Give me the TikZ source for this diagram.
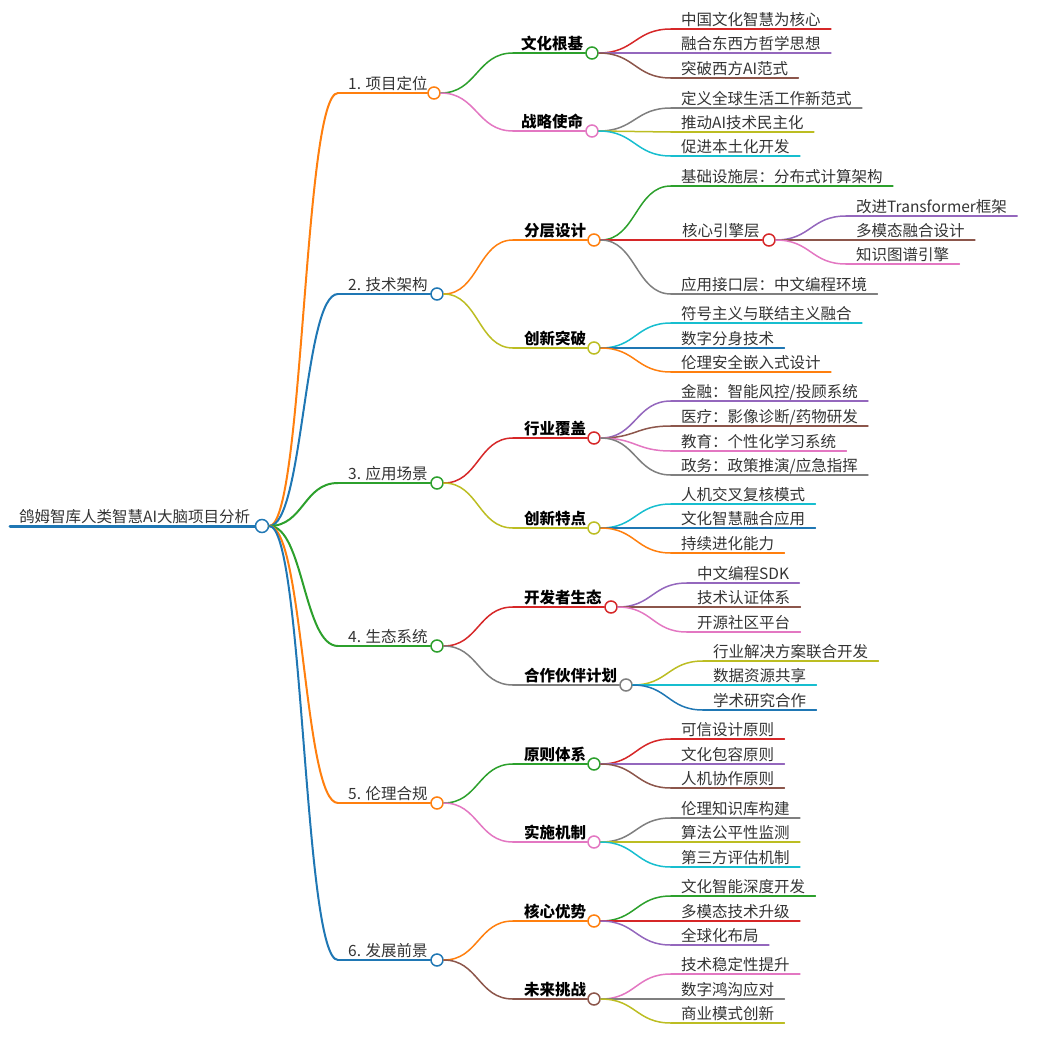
\documentclass[tikz,border=0pt]{standalone}
\usepackage{fontspec}
\setmainfont{Noto Sans CJK SC}
\usetikzlibrary{calc}
\definecolor{mmblue}{HTML}{1F77B4}
\definecolor{mmorange}{HTML}{FF7F0E}
\definecolor{mmgreen}{HTML}{2CA02C}
\definecolor{mmred}{HTML}{D62728}
\definecolor{mmpurple}{HTML}{9467BD}
\definecolor{mmbrown}{HTML}{8C564B}
\definecolor{mmpink}{HTML}{E377C2}
\definecolor{mmgray}{HTML}{7F7F7F}
\definecolor{mmolive}{HTML}{BCBD22}
\definecolor{mmcyan}{HTML}{17BECF}
\tikzset{
  every picture/.style={font={\fontsize{15.5pt}{18pt}\selectfont}, line cap=round}}

\begin{document}
\begin{tikzpicture}[x=1pt, y=-1pt,
    dot/.style={draw, circle, fill=white, minimum size=12pt, inner sep=0pt, line width=1.5pt},
    lbl/.style={anchor=base west, inner sep=0pt, text=black!80},
    head/.style={lbl, font={\fontsize{15.5pt}{18pt}\selectfont\bfseries}, text=black},
    leaf/.style={anchor=south west, inner xsep=10pt, inner ysep=3.5pt,
      text height=11pt, text depth=0pt, text=black!80},
    link/.style={to path={let \p1=(\tikztostart), \p2=(\tikztotarget) in
      .. controls (0.5*\x1+0.5*\x2,\y1) and (0.5*\x1+0.5*\x2,\y2) .. (\tikztotarget)}}]

    \useasboundingbox (0,0) rectangle (1042,1055);

    % root
    \coordinate (Rs) at (10,526);
    \node[dot, draw=mmblue, minimum size=13pt] (R) at (262,526) {};
    \node[lbl] (Rt) at (19,522) {鸽姆智库人类智慧AI大脑项目分析};

    % first level
    \begin{scope}
      \coordinate (As) at (338,93);
      \coordinate (Bs) at (338,294);
      \coordinate (Cs) at (338,483);
      \coordinate (Ds) at (338,646);
      \coordinate (Es) at (338,803);
      \coordinate (Fs) at (338,960);
      \node[dot, draw=mmorange] (A) at (434,93) {};
      \node[dot, draw=mmblue] (B) at (437,294) {};
      \node[dot, draw=mmgreen] (C) at (437,483) {};
      \node[dot, draw=mmgreen] (D) at (437,646) {};
      \node[dot, draw=mmorange] (E) at (437,803) {};
      \node[dot, draw=mmblue] (F) at (437,960) {};
      \node[lbl] (At) at (348,89) {1. 项目定位};
      \node[lbl] (Bt) at (348,290) {2. 技术架构};
      \node[lbl] (Ct) at (348,479) {3. 应用场景};
      \node[lbl] (Dt) at (348,642) {4. 生态系统};
      \node[lbl] (Et) at (348,799) {5. 伦理合规};
      \node[lbl] (Ft) at (348,956) {6. 发展前景};
    \end{scope}

    % second level
    \begin{scope}
      \coordinate (A1s) at (513,53);
      \coordinate (A2s) at (513,131);
      \coordinate (B1s) at (513,240);
      \coordinate (B2s) at (513,348);
      \coordinate (C1s) at (513,438);
      \coordinate (C2s) at (513,528);
      \coordinate (D1s) at (513,607);
      \coordinate (D2s) at (513,685);
      \coordinate (E1s) at (513,764);
      \coordinate (E2s) at (513,842);
      \coordinate (F1s) at (513,921);
      \coordinate (F2s) at (513,999);
      \node[dot, draw=mmgreen] (A1) at (592,53) {};
      \node[dot, draw=mmpink] (A2) at (592,131) {};
      \node[dot, draw=mmorange] (B1) at (594,240) {};
      \node[dot, draw=mmolive] (B2) at (594,348) {};
      \node[dot, draw=mmred] (C1) at (594,438) {};
      \node[dot, draw=mmolive] (C2) at (594,528) {};
      \node[dot, draw=mmred] (D1) at (611,607) {};
      \node[dot, draw=mmgray] (D2) at (626,685) {};
      \node[dot, draw=mmgreen] (E1) at (594,764) {};
      \node[dot, draw=mmpink] (E2) at (594,842) {};
      \node[dot, draw=mmorange] (F1) at (594,921) {};
      \node[dot, draw=mmbrown] (F2) at (594,999) {};
      \node[head] (A1t) at (521,49) {文化根基};
      \node[head] (A2t) at (521,127) {战略使命};
      \node[head] (B1t) at (524,236) {分层设计};
      \node[head] (B2t) at (524,344) {创新突破};
      \node[head] (C1t) at (524,434) {行业覆盖};
      \node[head] (C2t) at (524,524) {创新特点};
      \node[head] (D1t) at (524,603) {开发者生态};
      \node[head] (D2t) at (524,681) {合作伙伴计划};
      \node[head] (E1t) at (524,760) {原则体系};
      \node[head] (E2t) at (524,838) {实施机制};
      \node[head] (F1t) at (524,917) {核心优势};
      \node[head] (F2t) at (524,995) {未来挑战};
    \end{scope}

    % core engine layer
    \coordinate (B1bs) at (671,240);
    \node[dot, draw=mmred] (B1b) at (769,240) {};
    \node[lbl] (B1bt) at (682,236) {核心引擎层};

    % leaves
    \begin{scope}
      \node[leaf] (A1a) at (671,29) {中国文化智慧为核心};
      \node[leaf] (A1b) at (671,53) {融合东西方哲学思想};
      \node[leaf] (A1c) at (671,78) {突破西方AI范式};
      \node[leaf] (A2a) at (671,108) {定义全球生活工作新范式};
      \node[leaf] (A2b) at (671,132) {推动AI技术民主化};
      \node[leaf] (A2c) at (671,156) {促进本土化开发};
      \node[leaf] (B1a) at (671,186) {基础设施层：分布式计算架构};
      \node[leaf] (B1c) at (671,294) {应用接口层：中文编程环境};
      \node[leaf] (B1b1) at (846,216) {改进Transformer框架};
      \node[leaf] (B1b2) at (846,240) {多模态融合设计};
      \node[leaf] (B1b3) at (846,264) {知识图谱引擎};
      \node[leaf] (B2a) at (671,323) {符号主义与联结主义融合};
      \node[leaf] (B2b) at (671,348) {数字分身技术};
      \node[leaf] (B2c) at (671,372) {伦理安全嵌入式设计};
      \node[leaf] (C1a) at (671,401) {金融：智能风控/投顾系统};
      \node[leaf] (C1b) at (671,426) {医疗：影像诊断/药物研发};
      \node[leaf] (C1c) at (671,451) {教育：个性化学习系统};
      \node[leaf] (C1d) at (671,475) {政务：政策推演/应急指挥};
      \node[leaf] (C2a) at (671,504) {人机交叉复核模式};
      \node[leaf] (C2b) at (671,528) {文化智慧融合应用};
      \node[leaf] (C2c) at (671,553) {持续进化能力};
      \node[leaf] (D1a) at (687,583) {中文编程SDK};
      \node[leaf] (D1b) at (687,607) {技术认证体系};
      \node[leaf] (D1c) at (687,632) {开源社区平台};
      \node[leaf] (D2a) at (703,661) {行业解决方案联合开发};
      \node[leaf] (D2b) at (703,685) {数据资源共享};
      \node[leaf] (D2c) at (703,710) {学术研究合作};
      \node[leaf] (E1a) at (671,739) {可信设计原则};
      \node[leaf] (E1b) at (671,764) {文化包容原则};
      \node[leaf] (E1c) at (671,788) {人机协作原则};
      \node[leaf] (E2a) at (671,818) {伦理知识库构建};
      \node[leaf] (E2b) at (671,842) {算法公平性监测};
      \node[leaf] (E2c) at (671,867) {第三方评估机制};
      \node[leaf] (F1a) at (671,896) {文化智能深度开发};
      \node[leaf] (F1b) at (671,921) {多模态技术升级};
      \node[leaf] (F1c) at (671,945) {全球化布局};
      \node[leaf] (F2a) at (671,974) {技术稳定性提升};
      \node[leaf] (F2b) at (671,999) {数字鸿沟应对};
      \node[leaf] (F2c) at (671,1023) {商业模式创新};
    \end{scope}

    % root and first level connectors
    \draw[mmblue, line width=3pt] (Rs) -- (R.west);
    \path[link, line width=2pt] (R.east) edge[mmorange] (As) edge[mmblue] (Bs)
      edge[mmgreen] (Cs) edge[mmgreen] (Ds) edge[mmorange] (Es) edge[mmblue] (Fs);
    \path[line width=2pt] (As) edge[mmorange] (A.west) (Bs) edge[mmblue] (B.west)
      (Cs) edge[mmgreen] (C.west) (Ds) edge[mmgreen] (D.west)
      (Es) edge[mmorange] (E.west) (Fs) edge[mmblue] (F.west);

    % second level connectors
    \begin{scope}[line width=1.5pt]
      \path[link] (A.east) edge[mmgreen] (A1s) edge[mmpink] (A2s);
      \path[link] (B.east) edge[mmorange] (B1s) edge[mmolive] (B2s);
      \path[link] (C.east) edge[mmred] (C1s) edge[mmolive] (C2s);
      \path[link] (D.east) edge[mmred] (D1s) edge[mmgray] (D2s);
      \path[link] (E.east) edge[mmgreen] (E1s) edge[mmpink] (E2s);
      \path[link] (F.east) edge[mmorange] (F1s) edge[mmbrown] (F2s);
      \path (A1s) edge[mmgreen] (A1.west) (A2s) edge[mmpink] (A2.west)
        (B1s) edge[mmorange] (B1.west) (B2s) edge[mmolive] (B2.west)
        (C1s) edge[mmred] (C1.west) (C2s) edge[mmolive] (C2.west)
        (D1s) edge[mmred] (D1.west) (D2s) edge[mmgray] (D2.west)
        (E1s) edge[mmgreen] (E1.west) (E2s) edge[mmpink] (E2.west)
        (F1s) edge[mmorange] (F1.west) (F2s) edge[mmbrown] (F2.west);
    \end{scope}

    % leaf connectors and underlines
    \begin{scope}[line width=1.5pt]
      \path[link] (A1.east) edge[mmred] (A1a.south west) edge[mmpurple] (A1b.south west)
        edge[mmbrown] (A1c.south west);
      \path[link] (A2.east) edge[mmgray] (A2a.south west) edge[mmolive] (A2b.south west)
        edge[mmcyan] (A2c.south west);
      \path[link] (B1.east) edge[mmgreen] (B1a.south west) edge[mmred] (B1bs)
        edge[mmgray] (B1c.south west);
      \path[link] (B1b.east) edge[mmpurple] (B1b1.south west) edge[mmbrown] (B1b2.south west)
        edge[mmpink] (B1b3.south west);
      \path[link] (B2.east) edge[mmcyan] (B2a.south west) edge[mmblue] (B2b.south west)
        edge[mmorange] (B2c.south west);
      \path[link] (C1.east) edge[mmpurple] (C1a.south west) edge[mmbrown] (C1b.south west)
        edge[mmpink] (C1c.south west) edge[mmgray] (C1d.south west);
      \path[link] (C2.east) edge[mmcyan] (C2a.south west) edge[mmblue] (C2b.south west)
        edge[mmorange] (C2c.south west);
      \path[link] (D1.east) edge[mmpurple] (D1a.south west) edge[mmbrown] (D1b.south west)
        edge[mmpink] (D1c.south west);
      \path[link] (D2.east) edge[mmolive] (D2a.south west) edge[mmcyan] (D2b.south west)
        edge[mmblue] (D2c.south west);
      \path[link] (E1.east) edge[mmred] (E1a.south west) edge[mmpurple] (E1b.south west)
        edge[mmbrown] (E1c.south west);
      \path[link] (E2.east) edge[mmgray] (E2a.south west) edge[mmolive] (E2b.south west)
        edge[mmcyan] (E2c.south west);
      \path[link] (F1.east) edge[mmgreen] (F1a.south west) edge[mmred] (F1b.south west)
        edge[mmpurple] (F1c.south west);
      \path[link] (F2.east) edge[mmpink] (F2a.south west) edge[mmgray] (F2b.south west)
        edge[mmolive] (F2c.south west);

      \draw[mmred] (B1bs) -- (B1b.west);
      \path (A1a.south west) edge[mmred] (A1a.south east)
        (A1b.south west) edge[mmpurple] (A1b.south east)
        (A1c.south west) edge[mmbrown] (A1c.south east)
        (A2a.south west) edge[mmgray] (A2a.south east)
        (A2b.south west) edge[mmolive] (A2b.south east)
        (A2c.south west) edge[mmcyan] (A2c.south east);
      \path (B1a.south west) edge[mmgreen] (B1a.south east)
        (B1c.south west) edge[mmgray] (B1c.south east)
        (B1b1.south west) edge[mmpurple] (B1b1.south east)
        (B1b2.south west) edge[mmbrown] (B1b2.south east)
        (B1b3.south west) edge[mmpink] (B1b3.south east)
        (B2a.south west) edge[mmcyan] (B2a.south east)
        (B2b.south west) edge[mmblue] (B2b.south east)
        (B2c.south west) edge[mmorange] (B2c.south east);
      \path (C1a.south west) edge[mmpurple] (C1a.south east)
        (C1b.south west) edge[mmbrown] (C1b.south east)
        (C1c.south west) edge[mmpink] (C1c.south east)
        (C1d.south west) edge[mmgray] (C1d.south east)
        (C2a.south west) edge[mmcyan] (C2a.south east)
        (C2b.south west) edge[mmblue] (C2b.south east)
        (C2c.south west) edge[mmorange] (C2c.south east);
      \path (D1a.south west) edge[mmpurple] (D1a.south east)
        (D1b.south west) edge[mmbrown] (D1b.south east)
        (D1c.south west) edge[mmpink] (D1c.south east)
        (D2a.south west) edge[mmolive] (D2a.south east)
        (D2b.south west) edge[mmcyan] (D2b.south east)
        (D2c.south west) edge[mmblue] (D2c.south east);
      \path (E1a.south west) edge[mmred] (E1a.south east)
        (E1b.south west) edge[mmpurple] (E1b.south east)
        (E1c.south west) edge[mmbrown] (E1c.south east)
        (E2a.south west) edge[mmgray] (E2a.south east)
        (E2b.south west) edge[mmolive] (E2b.south east)
        (E2c.south west) edge[mmcyan] (E2c.south east);
      \path (F1a.south west) edge[mmgreen] (F1a.south east)
        (F1b.south west) edge[mmred] (F1b.south east)
        (F1c.south west) edge[mmpurple] (F1c.south east)
        (F2a.south west) edge[mmpink] (F2a.south east)
        (F2b.south west) edge[mmgray] (F2b.south east)
        (F2c.south west) edge[mmolive] (F2c.south east);
    \end{scope}
  \end{tikzpicture}
\end{document}
